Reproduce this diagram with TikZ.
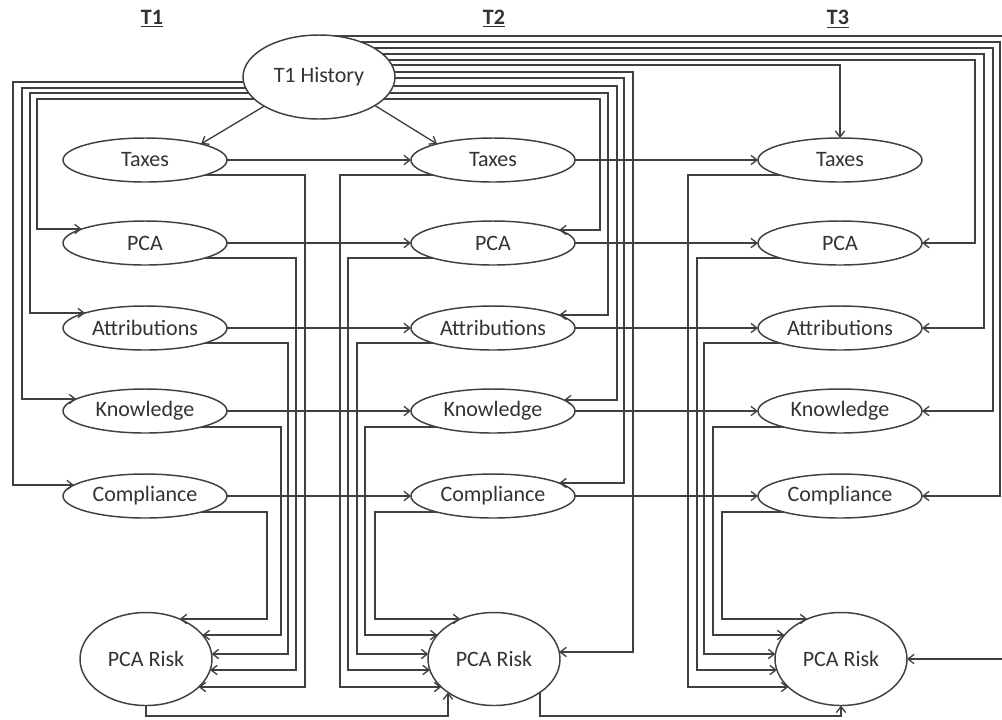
\documentclass[tikz,border=0pt]{standalone}
\usepackage{fontspec}
\setmainfont{Carlito}
\usetikzlibrary{shapes.geometric,arrows.meta,calc}
\definecolor{ink}{gray}{0.25}
\definecolor{txt}{gray}{0.2}
\pgfmathdeclarefunction{sx}{1}{\pgfmathparse{82*sqrt(1-(#1/22)^2)}}
\pgfmathdeclarefunction{rx}{1}{\pgfmathparse{66*sqrt(1-(#1/46.5)^2)}}
\pgfmathdeclarefunction{hx}{1}{\pgfmathparse{76*sqrt(1-(#1/42)^2)}}
\pgfmathdeclarefunction{ry}{1}{\pgfmathparse{46.5*sqrt(1-(#1/66)^2)}}
\tikzset{
  oval/.style={ellipse, draw=ink, line width=1.1pt, minimum width=123pt, minimum height=33pt,
    inner sep=0pt, outer sep=0pt, text=txt, font=\fontsize{16.5}{18}\selectfont},
  riskoval/.style={oval, minimum width=99pt, minimum height=69.75pt},
  histoval/.style={oval, minimum width=114pt, minimum height=63pt},
  head/.style={text=txt, font=\bfseries\fontsize{16.5}{18}\selectfont},
  link/.style={draw=ink, line width=1pt},
  arr/.style={link, -{Straight Barb[length=4.5pt,width=7pt]}},
}
\begin{document}
\begin{tikzpicture}[x=0.75pt,y=-0.75pt]
\path[use as bounding box] (0,0) rectangle (1002,719);
\fill[white] (0,0) rectangle (1002,719);
\clip (0,0) rectangle (1002,719);

% headings
\node[head] (h1) at (152,19) {\underline{T1}};
\node[head] (h2) at (494,19) {\underline{T2}};
\node[head] (h3) at (838,19) {\underline{T3}};

% nodes
\node[histoval] (hist) at (319,77) {T1 History};
\foreach \c/\x in {1/145,2/493,3/840}{
  \node[oval] (tax\c) at (\x,160) {Taxes};
  \node[oval] (pca\c) at (\x,243) {PCA};
  \node[oval] (att\c) at (\x,328) {Attributions};
  \node[oval] (kno\c) at (\x,411) {Knowledge};
  \node[oval] (com\c) at (\x,496) {Compliance};
}
\node[riskoval] (risk1) at (146,659) {PCA Risk};
\node[riskoval] (risk2) at (494,659) {PCA Risk};
\node[riskoval] (risk3) at (841,659) {PCA Risk};

% T1 History to taxes
\draw[arr] (hist.208) -- (tax1.16);
\draw[arr] (hist.333) -- (tax2.164);

% horizontal arrows between waves
\foreach \nm in {tax,pca,att,kno,com}{
  \draw[arr] (\nm1.east) -- (\nm2.west);
  \draw[arr] (\nm2.east) -- (\nm3.west);
}

% T1 History to column 1 (left side)
\foreach \nm/\ds/\xx/\de/\cy in {pca/22/37/-14/243, att/16/30/-15/328, kno/11/22/-12/411, com/5/13/-11/496}{
  \pgfmathsetmacro\Y{\cy+\de}
  \draw[arr] ($(hist.center)+({-hx(\ds)},\ds)$) -| (\xx,\Y) -- ($(\nm1.center)+({-sx(\de)},\de)$);
}

% T1 History to column 2 (right side)
\foreach \nm/\ds/\xx/\de/\cy in {pca/22/600/-13/243, att/16/608/-13/328, kno/9/617/-11/411, com/1/624/-13/496}{
  \pgfmathsetmacro\Y{\cy+\de}
  \draw[arr] ($(hist.center)+({hx(\ds)},\ds)$) -| (\xx,\Y) -- ($(\nm2.center)+({sx(\de)},\de)$);
}
\draw[arr] ($(hist.center)+({hx(-5)},-5)$) -| (633,652) -- ($(risk2.center)+({rx(-7)},-7)$);

% T1 History to column 3 (over the top)
\draw[arr] ($(hist.center)+({hx(-12)},-12)$) -| (tax3.north);
\foreach \nm/\ds/\xx/\cy in {pca/-17/975/243, att/-23/984/328, kno/-29/993/411, com/-35/1000/496}{
  \draw[arr] ($(hist.center)+({hx(\ds)},\ds)$) -| (\xx,\cy) -- (\nm3.east);
}
\draw[arr] ($(hist.center)+({hx(-41)},-41)$) -| (1010,659) -- (risk3.east);

% each wave's variables to its PCA Risk
\foreach \nm/\ds/\de/\xa/\xb/\xc in {tax/15/28/305/340/688, pca/15/11/296/348/697, att/15/-5/288/357/704, kno/16/-24/281/365/713, com/16/-40/267/375/722}{
  \pgfmathsetmacro\Y{659+\de}
  \draw[arr] ($(\nm1.center)+({sx(\ds)},\ds)$) -| (\xa,\Y) -- ($(risk1.center)+({rx(\de)},\de)$);
  \draw[arr] ($(\nm2.center)+({-sx(\ds)},\ds)$) -| (\xb,\Y) -- ($(risk2.center)+({-rx(\de)},\de)$);
  \draw[arr] ($(\nm3.center)+({-sx(\ds)},\ds)$) -| (\xc,\Y) -- ($(risk3.center)+({-rx(\de)},\de)$);
}

% PCA Risk chain
\draw[arr] (risk1.south) |- (448,716) -- ($(risk2.center)+(-46,{ry(46)})$);
\draw[arr] ($(risk2.center)+(46,{ry(46)})$) |- (841,716) -- (risk3.south);
\end{tikzpicture}
\end{document}
